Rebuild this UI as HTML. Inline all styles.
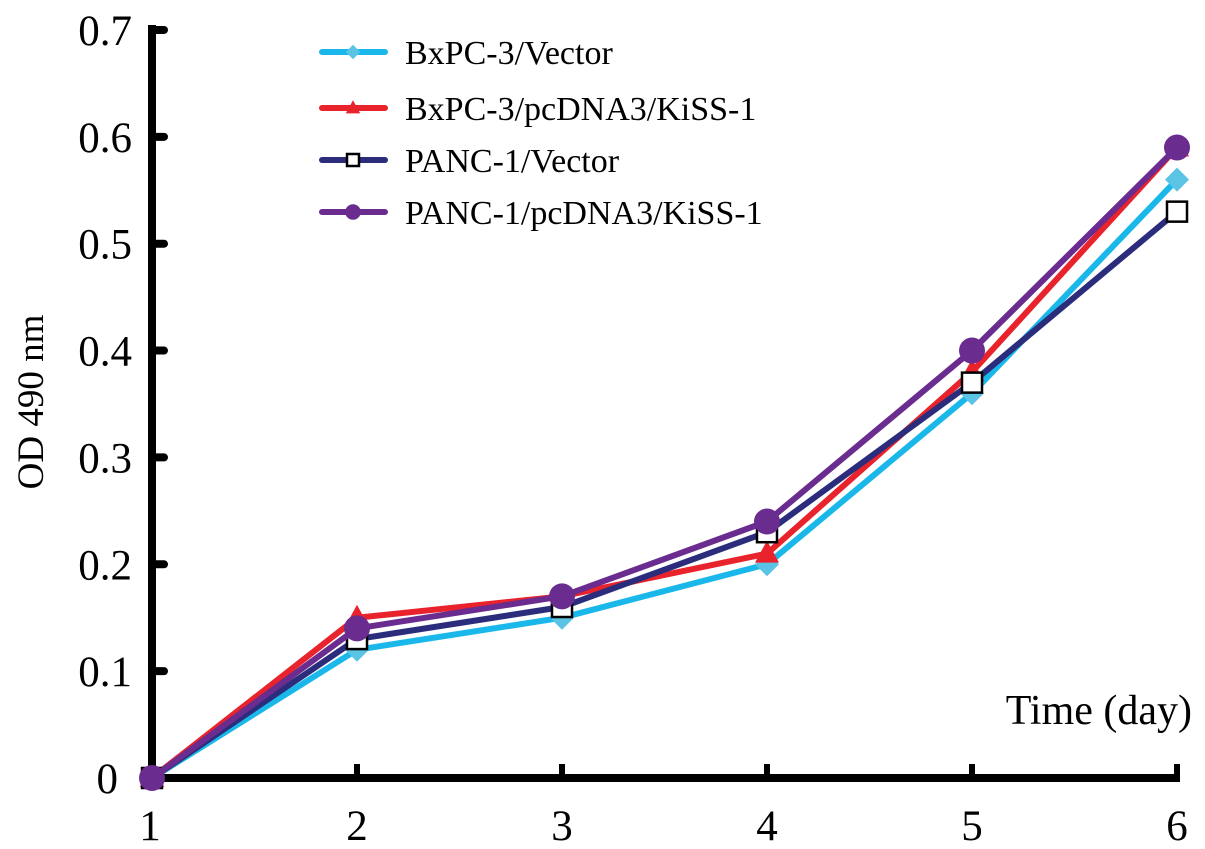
<!DOCTYPE html>
<html><head><meta charset="utf-8"><style>
body{margin:0;background:#fff}
svg{display:block;font-family:"Liberation Serif",serif}
</style></head><body>
<svg id="c" width="1205" height="849"></svg>
<script>
const days=[1,2,3,4,5,6];
const yTicks=[0,0.1,0.2,0.3,0.4,0.5,0.6,0.7];
const yTickLabels=["0","0.1","0.2","0.3","0.4","0.5","0.6","0.7"];
const bxVector=[0,0.12,0.15,0.20,0.36,0.56];
const bxKiss=[0,0.15,0.17,0.21,0.38,0.59];
const panVector=[0,0.13,0.16,0.23,0.37,0.53];
const panKiss=[0,0.14,0.17,0.24,0.40,0.59];
const seriesNames=["BxPC-3/Vector","BxPC-3/pcDNA3/KiSS-1","PANC-1/Vector","PANC-1/pcDNA3/KiSS-1"];
const NS="http://www.w3.org/2000/svg";
const svg=document.getElementById('c');
const X=d=>152+(d-1)*205;
const Y=v=>778-v*1068.6;
function mk(t,a,p){const e=document.createElementNS(NS,t);for(const k in a)e.setAttribute(k,a[k]);(p||svg).appendChild(e);return e;}
let ya=mk('line',{x1:152,y1:25,x2:152,y2:782,stroke:'#000','stroke-width':8});


let xa=mk('line',{x1:148,y1:778,x2:1180,y2:778,stroke:'#000','stroke-width':8});


yTicks.forEach((v,i)=>{
 if(v>0){let t=mk('line',{x1:152,y1:Y(v),x2:164,y2:Y(v),stroke:'#000','stroke-width':8,'stroke-linecap':'round'});
 
 }
 let l=mk('text',{x:i==0?118:132,y:Y(v)+15,'text-anchor':'end','font-size':43});
 l.textContent=yTickLabels[i];
 
 
});
days.forEach(d=>{
 if(d>1){let t=mk('line',{x1:X(d),y1:778,x2:X(d),y2:764,stroke:'#000','stroke-width':6});
 
 }
 let l=mk('text',{x:X(d)-(d==1?2:0),y:840,'text-anchor':'middle','font-size':43});
 l.textContent=d;
 
 
});
let yt=mk('text',{x:0,y:0,'text-anchor':'middle','font-size':37,transform:'translate(43,402) rotate(-90)'});
yt.textContent='OD 490 nm';


let xt=mk('text',{x:1192,y:724,'text-anchor':'end','font-size':42});
xt.textContent='Time (day)';


function marker(type,x,y,col,g,s){
 if(type=='diamond')return mk('polygon',{points:`${x},${y-12*s} ${x+12*s},${y} ${x},${y+12*s} ${x-12*s},${y}`,fill:'#5bc4e5'},g);
 if(type=='tri')return mk('polygon',{points:`${x},${y-13*s} ${x+12*s},${y+9*s} ${x-12*s},${y+9*s}`,fill:col},g);
 if(type=='square')return mk('rect',{x:x-10*s,y:y-10*s,width:20*s,height:20*s,fill:'#fff',stroke:'#000','stroke-width':2.5},g);
 return mk('circle',{cx:x,cy:y,r:13*s,fill:col},g);
}
const series=[[bxVector,'#1ab8ea','diamond'],[bxKiss,'#e8232b','tri'],[panVector,'#2b2d7c','square'],[panKiss,'#6a2c8e','circle']];
series.forEach((s,i)=>{
 const g=mk('g',{});
 
 
 const p=mk('polyline',{points:days.map((d,j)=>X(d)+','+Y(s[0][j])).join(' '),fill:'none',stroke:s[1],'stroke-width':6,'stroke-linejoin':'round'},g);
 
 
 days.forEach((d,j)=>{const m=marker(s[2],X(d),Y(s[0][j]),s[1],g,1);
  
  });
 const ly=[52,108,160,212][i];
 const lg=mk('g',{});
 
 
 mk('line',{x1:322,y1:ly,x2:385,y2:ly,stroke:s[1],'stroke-width':6,'stroke-linecap':'round'},lg);
 marker(s[2],353,ly,s[1],lg,0.6);
 const t=mk('text',{x:405,y:ly+12,'font-size':34},lg);
 t.textContent=seriesNames[i];
});
</script>
</body></html>
